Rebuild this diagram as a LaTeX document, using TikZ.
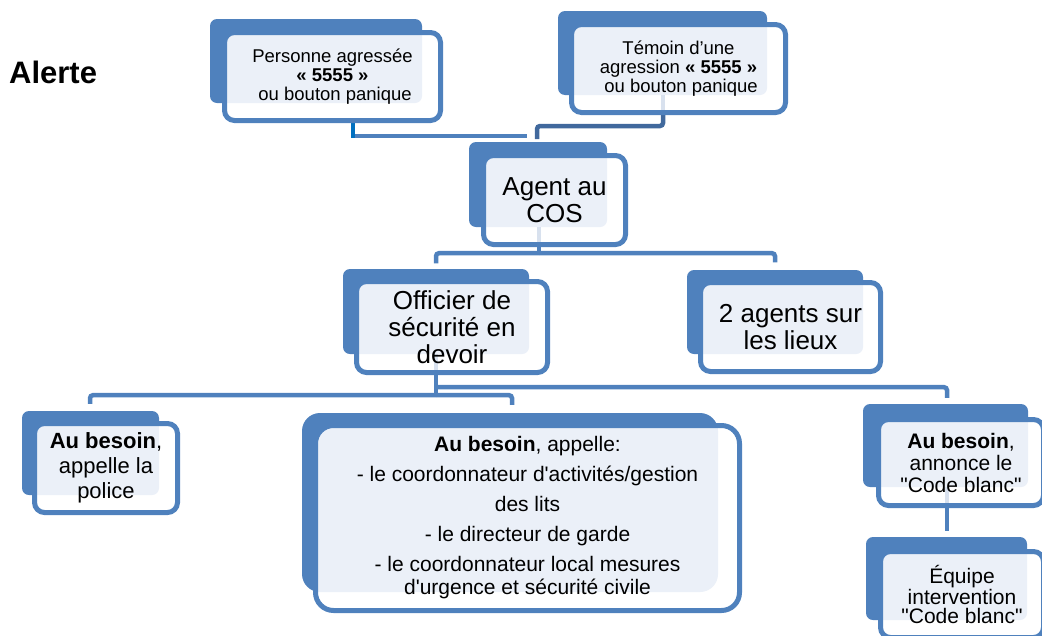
\documentclass[tikz,border=0pt]{standalone}
\usepackage{fontspec}
\newfontfamily\arial{Liberation Sans}
\usetikzlibrary{fit,calc}
\definecolor{backblue}{HTML}{4F81BD}
\definecolor{lineblue}{HTML}{4F81BD}
\definecolor{brightblue}{HTML}{0070C0}
\definecolor{darkline}{HTML}{41699D}
\definecolor{lightfill}{HTML}{EBF0F8}
\definecolor{faint}{HTML}{D8E1EE}
\def\rb{7pt}\def\rf{10pt}
\newcommand\pairbox[9]{%
  \fill[backblue, rounded corners=\rb] (#2,#3) rectangle (#4,#5);
  \fill[white, rounded corners=\rf] (#6,#7) rectangle (#8,#9);
  \begin{scope}
    \clip[rounded corners=\rb] (#2,#3) rectangle (#4,#5);
    \fill[lightfill, rounded corners=\rf] (#6,#7) rectangle (#8,#9);
  \end{scope}
  \draw[lineblue, line width=5pt, rounded corners=\rf] (#6,#7) rectangle (#8,#9);
  \node[fit={(#6,#7) (#8,#9)}, inner sep=0pt] (#1) {};
}
\tikzset{
  conn/.style={draw=lineblue, line width=4.5pt},
  faintline/.style={draw=faint, line width=4.5pt},
  txt/.style={align=center, inner sep=0pt, text=black},
  fsA/.style={font=\arial\fontsize{18.5}{19}\selectfont},
  fsB/.style={font=\arial\fontsize{26}{27}\selectfont},
  fsC/.style={font=\arial\fontsize{22}{25}\selectfont},
  fsD/.style={font=\arial\fontsize{21}{30}\selectfont},
  fsE/.style={font=\arial\fontsize{21}{22}\selectfont},
  fsF/.style={font=\arial\fontsize{21}{19.5}\selectfont},
}
\begin{document}
\begin{tikzpicture}[x=1pt, y=-1pt]
\useasboundingbox (0,0) rectangle (1042,635);
\clip (0,0) rectangle (1042,635);

% node names (front frames) used by connectors
\node[fit={(224.5,32.5) (440.5,120.5)}, inner sep=0pt] (pers) {};
\node[fit={(571.5,24.5) (785.5,112.5)}, inner sep=0pt] (tem) {};
\node[fit={(483.5,155.5) (625.5,244.5)}, inner sep=0pt] (cos) {};
\node[fit={(356.5,281.5) (547.5,372.5)}, inner sep=0pt] (off) {};
\node[fit={(700.5,282.5) (880.5,371.5)}, inner sep=0pt] (two) {};
\node[fit={(34.5,423.5) (177.5,512.5)}, inner sep=0pt] (pol) {};
\node[fit={(315.5,425.5) (739.5,610.5)}, inner sep=0pt] (big) {};
\node[fit={(878.5,419.5) (1043.5,505.5)}, inner sep=0pt] (code) {};
\node[fit={(880.5,551.5) (1043.5,637.5)}, inner sep=0pt] (equ) {};

% ---------- connectors ----------
\coordinate (pend) at (527,136);
\coordinate (tend) at (537,139);
\path ([xshift=20.5pt]pers.south) ++(0,17.5) coordinate (pc);
\draw[conn] (pc |- pend) -- (pend);
\draw[conn, draw=brightblue] ([xshift=20.5pt]pers.south) -- (pc);
\draw[conn, draw=darkline, rounded corners=3pt] ([xshift=-15.5pt]tem.south) |- ([yshift=13pt]tend) -- (tend);

\path ([xshift=-15.5pt]cos.south) ++(0,8.5) coordinate (j1);
\draw[conn] ([xshift=-15.5pt]cos.south) -- (j1);
\draw[conn, rounded corners=3pt, shorten >=18pt] (j1) -| ([xshift=-16pt]off.north);
\draw[conn, rounded corners=3pt, shorten >=20pt] (j1) -| ([xshift=-15.5pt]two.north);

\path ([xshift=-16pt]off.south) ++(0,14.5) coordinate (j2a) ++(0,8) coordinate (j2b);
\draw[conn, rounded corners=3pt, shorten >=21.5pt] (j2a) -| ([xshift=-14pt]code.north);
\draw[conn, rounded corners=3pt, shorten >=19.5pt] (j2b) -| ([xshift=-16pt]pol.north);
\draw[conn, rounded corners=3pt, shorten >=20.5pt] (j2b) -| ([xshift=-15.5pt]big.north);
\draw[conn] ([xshift=-16pt]off.south) -- ([yshift=-2pt]j2b);
\draw[conn, shorten >=20.5pt] ([xshift=-14pt]code.south) -- ([xshift=-15pt]equ.north);

% ---------- boxes ----------
\pairbox{persb}{210}{19}{422}{103}{224.5}{32.5}{440.5}{120.5}
\pairbox{temb}{558}{11}{767}{95}{571.5}{24.5}{785.5}{112.5}
\pairbox{cosb}{469}{142}{607}{227}{483.5}{155.5}{625.5}{244.5}
\pairbox{offb}{343}{269}{529}{354}{356.5}{281.5}{547.5}{372.5}
\pairbox{twob}{687}{270}{863}{354}{700.5}{282.5}{880.5}{371.5}
\pairbox{polb}{22}{411}{159}{495}{34.5}{423.5}{177.5}{512.5}
\pairbox{codeb}{863}{404}{1028}{487}{878.5}{419.5}{1043.5}{505.5}
\pairbox{equb}{866}{537}{1027}{620}{880.5}{551.5}{1043.5}{637.5}
\def\rb{18pt}\def\rf{18pt}
\pairbox{bigb}{302}{413}{718}{592}{315.5}{425.5}{739.5}{610.5}

% faint connector traces inside boxes
\draw[faintline] ([xshift=-15.5pt,yshift=2.5pt]tem.south) -- ++(0,-15);
\draw[faintline] ([xshift=-15.5pt,yshift=2.5pt]cos.south) -- ++(0,-15);
\draw[faintline] ([xshift=-16pt,yshift=2.5pt]off.south) -- ++(0,-16);
\draw[faintline] ([xshift=-14pt,yshift=2.5pt]code.south) -- ++(0,-16);

% ---------- texts ----------
\node[anchor=base west, inner sep=0pt, font=\arial\bfseries\fontsize{31}{32}\selectfont] (alerte) at (9,83) {Alerte};
\node[txt, fsA] (perst) at (pers) {Personne agressée\\\textbf{« 5555 »}\\\hspace*{0.28em}ou bouton panique};
\node[txt, fsA] (temt) at (tem) {Témoin d’une\\agression \textbf{« 5555 »}\\\hspace*{0.28em}ou bouton panique};
\node[txt, fsB] (cost) at (cos) {Agent au\\COS};
\node[txt, fsB] (offt) at (off) {Officier de\\sécurité en\\devoir};
\node[txt, fsB] (twot) at (two) {2 agents sur\\les lieux};
\node[txt, fsC] (polt) at (pol) {\textbf{Au besoin},\\appelle la\\police};
\node[txt, fsD] (bigt) at (big) {\textbf{Au besoin}, appelle:\\- le coordonnateur d'activités/gestion\\des lits\\- le directeur de garde\\- le coordonnateur local mesures\\[-7pt]d'urgence et sécurité civile};
\node[txt, fsE] (codet) at (code) {\textbf{Au besoin},\\annonce le\\"Code blanc"};
\node[txt, fsF] (equt) at (equ) {Équipe\\intervention\\"Code blanc"};
\end{tikzpicture}
\end{document}
